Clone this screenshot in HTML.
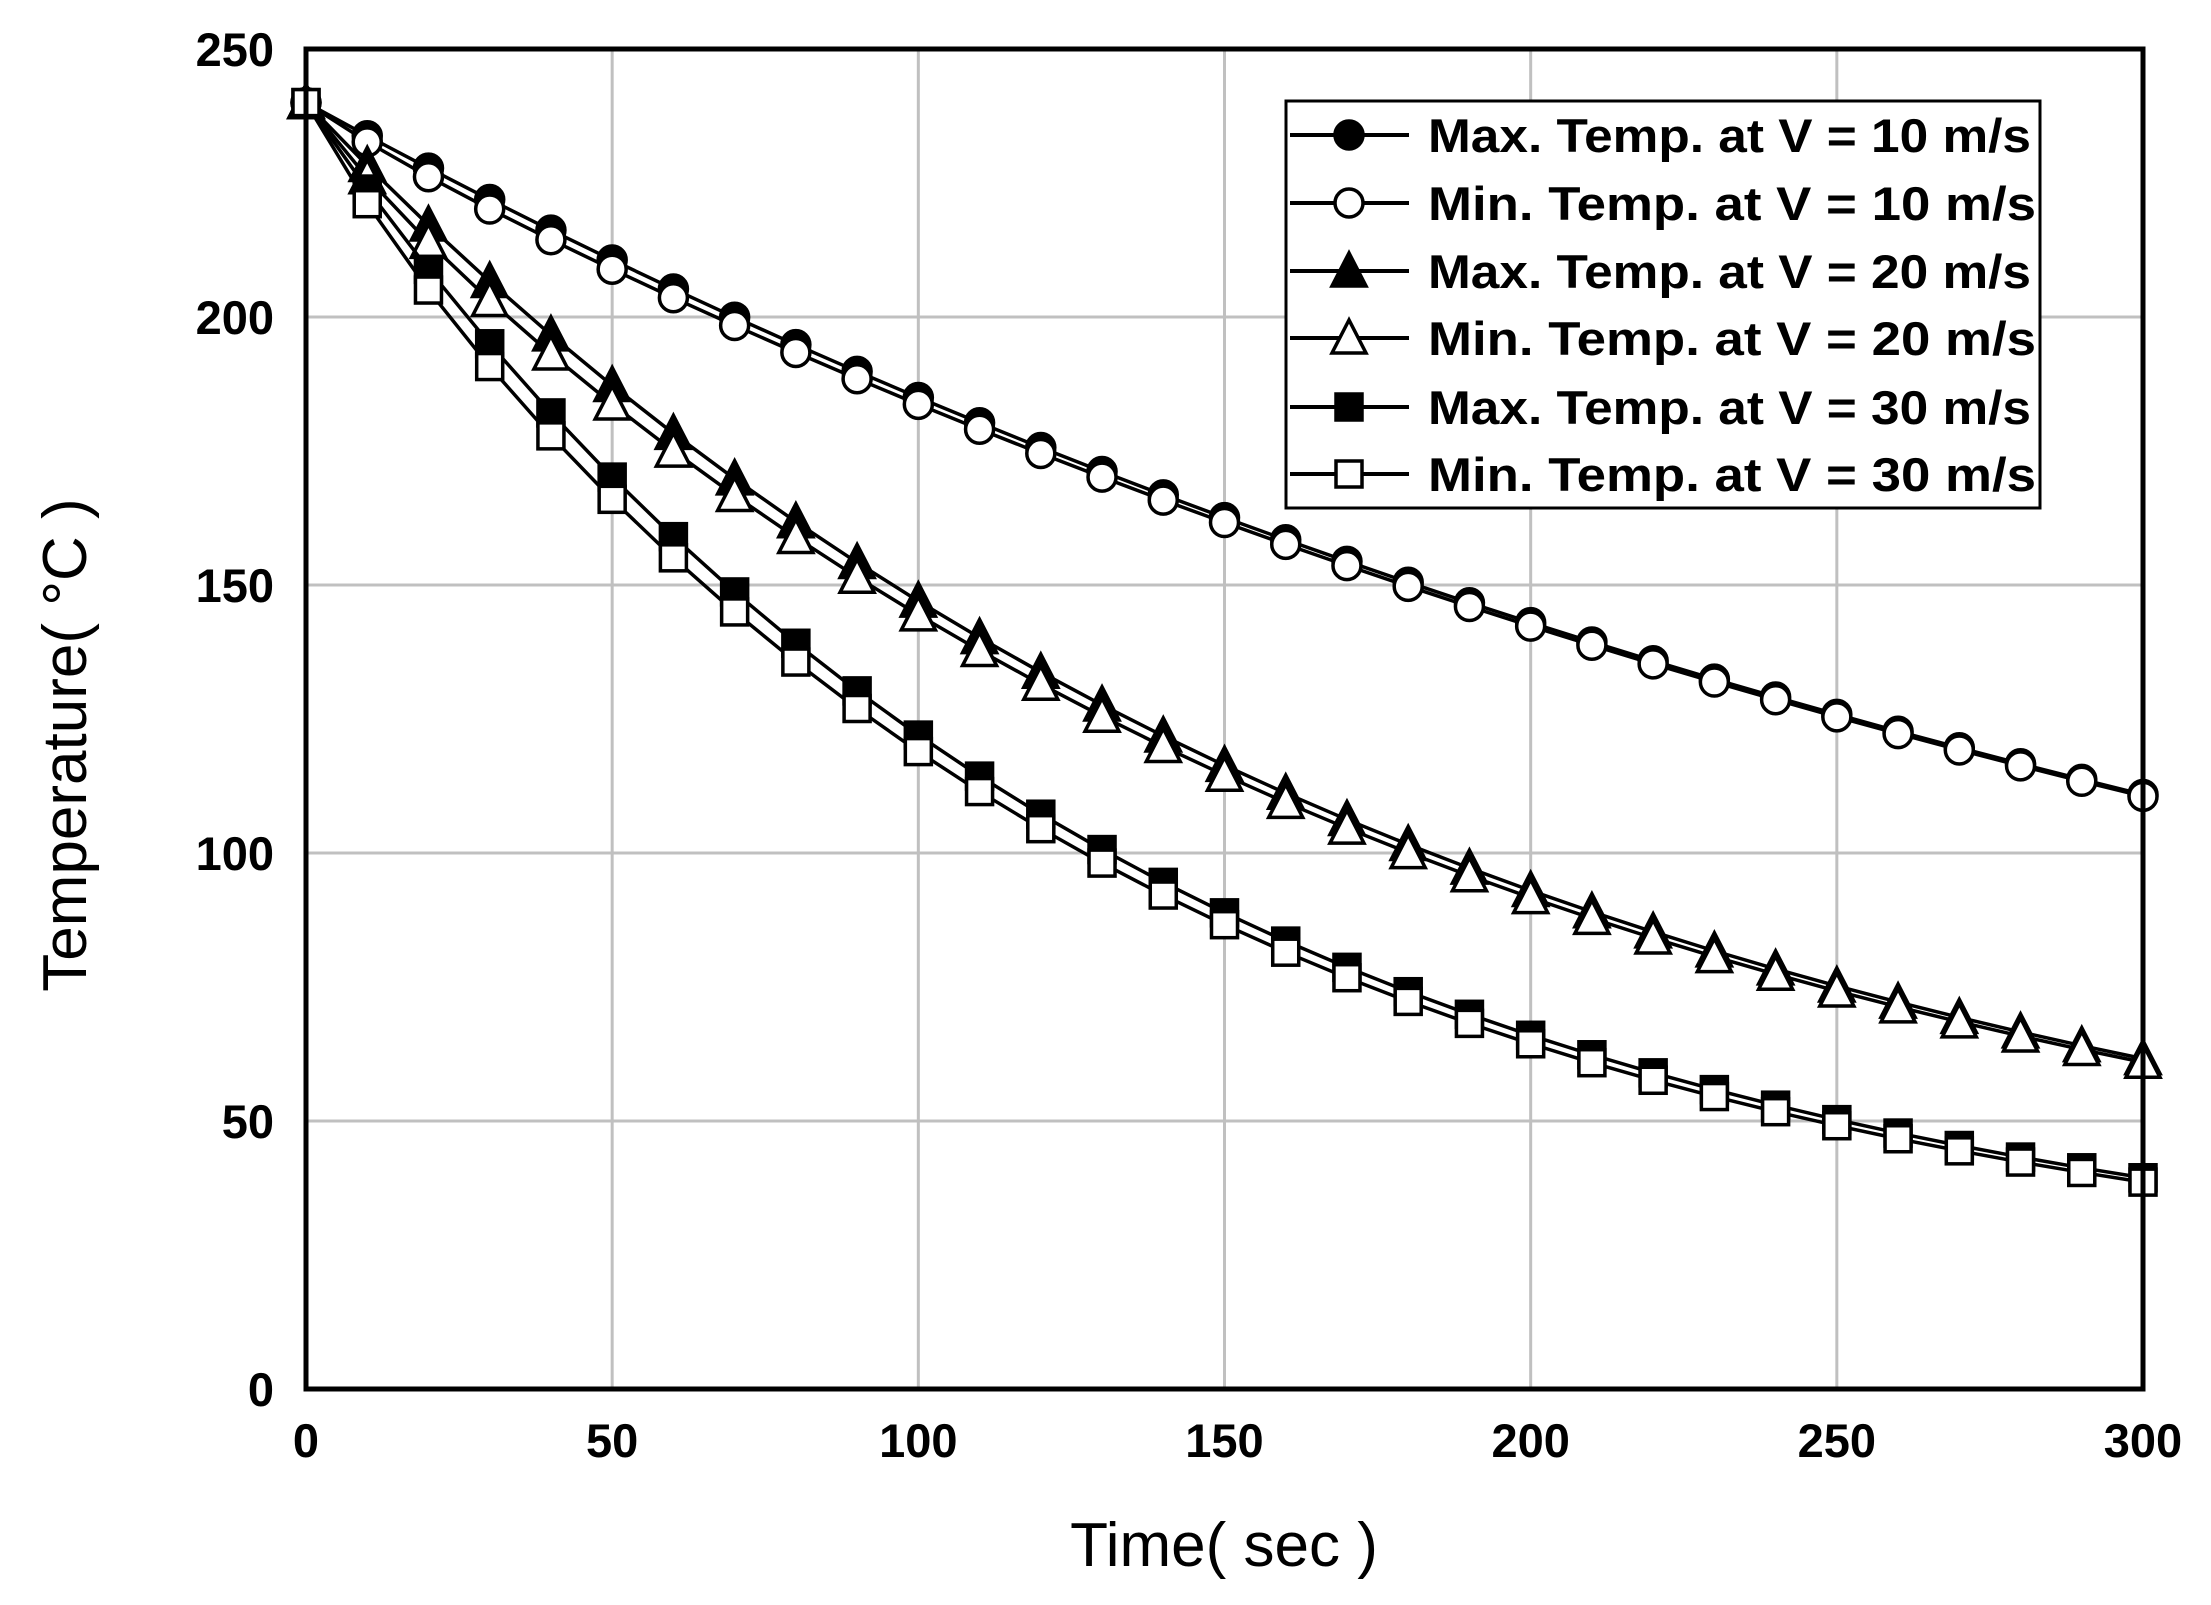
<!DOCTYPE html>
<html><head><meta charset="utf-8"><style>
html,body{margin:0;padding:0;background:#fff;}
svg{display:block;}
text{font-family:"Liberation Sans",Arial,sans-serif;}
</style></head><body>
<svg id="s" width="2211" height="1605" viewBox="0 0 2211 1605" xmlns="http://www.w3.org/2000/svg">
<rect width="2211" height="1605" fill="#fff"/>
<g id="grid" stroke="#c0c0c0" stroke-width="3"></g>
<g id="series"></g>
<rect x="306" y="49" width="1837" height="1340" fill="none" stroke="#000" stroke-width="5"/>
<g id="ticks" font-weight="bold" font-size="47" fill="#000"></g>
<text x="1224" y="1566" font-size="62" text-anchor="middle">Time( sec )</text>
<text transform="translate(86,745) rotate(-90)" font-size="62" text-anchor="middle">Temperature( °C )</text>
<g id="legend"></g>
</svg>
<script>
const NS="http://www.w3.org/2000/svg";
const X0=306,X1=2143,Y0=1389,Y1=49;
const px=t=>X0+(X1-X0)*t/300, py=v=>Y0-(Y0-Y1)*v/250;
function el(p,tag,a,txt){const e=document.createElementNS(NS,tag);for(const k in a)e.setAttribute(k,a[k]);if(txt!=null)e.textContent=txt;p.appendChild(e);return e;}
const g=document.getElementById('grid'),tk=document.getElementById('ticks');
for(let t=50;t<300;t+=50)el(g,'line',{x1:px(t),x2:px(t),y1:Y1,y2:Y0});
for(let v=50;v<250;v+=50)el(g,'line',{x1:X0,x2:X1,y1:py(v),y2:py(v)});
for(let t=0;t<=300;t+=50)el(tk,'text',{x:px(t),y:1457,'text-anchor':'middle'},t);
for(let v=0;v<=250;v+=50)el(tk,'text',{x:274,y:py(v)+17,'text-anchor':'end'},v);
const params=[[7.3,0.7636,2.5],[18.2,0.5807,5],[15.4,0.4746,6]];
const sg=document.getElementById('series');
function marker(p,type,fill,x,y,sc){sc=sc||1;
 const st={fill:fill?'#000':'#fff',stroke:'#000','stroke-width':3.5};
 if(type==0)el(p,'circle',Object.assign({cx:x,cy:y,r:14*sc},st));
 else if(type==1){const w=17*sc,h=15*sc;el(p,'polygon',Object.assign({points:`${x},${y-h*1.2} ${x-w},${y+h} ${x+w},${y+h}`},st));}
 else el(p,'rect',Object.assign({x:x-13*sc,y:y-13*sc,width:26*sc,height:26*sc},st));}
params.forEach((pr,i)=>{
 const [Ta,r,d]=pr;
 const mx=t=>Ta+(240-Ta)*Math.pow(r,t/100);
 const mn=t=>mx(t)-d*(1-Math.exp(-t/15))*Math.exp(-t/150);
 [mx,mn].forEach((f,j)=>{
  let pts=[];for(let t=0;t<=300;t+=10)pts.push(px(t)+','+py(f(t)));
  el(sg,'polyline',{points:pts.join(' '),fill:'none',stroke:'#000','stroke-width':3.5});
 });
 [mx,mn].forEach((f,j)=>{for(let t=0;t<=300;t+=10)marker(sg,i,j==0,px(t),py(f(t)));});
});
const lg=document.getElementById('legend');
el(lg,'rect',{x:1286,y:101,width:754,height:407,fill:'#fff',stroke:'#000','stroke-width':3});
const labels=["Max. Temp. at V = 10 m/s","Min.  Temp. at V = 10 m/s","Max. Temp. at V = 20 m/s","Min.  Temp. at V = 20 m/s","Max. Temp. at V = 30 m/s","Min.  Temp. at V = 30 m/s"];
const ys=[135,203,271,338,407,474];
labels.forEach((L,k)=>{const y=ys[k];
 el(lg,'line',{x1:1290,x2:1409,y1:y,y2:y,stroke:'#000','stroke-width':4});
 marker(lg,Math.floor(k/2),k%2==0,1349,y,1);
 el(lg,'text',{x:1428,y:y+17,'font-size':47,'font-weight':'bold',textLength:k%2==0?603:608,lengthAdjust:'spacingAndGlyphs','xml:space':'preserve'},L);
});
</script>
</body></html>
